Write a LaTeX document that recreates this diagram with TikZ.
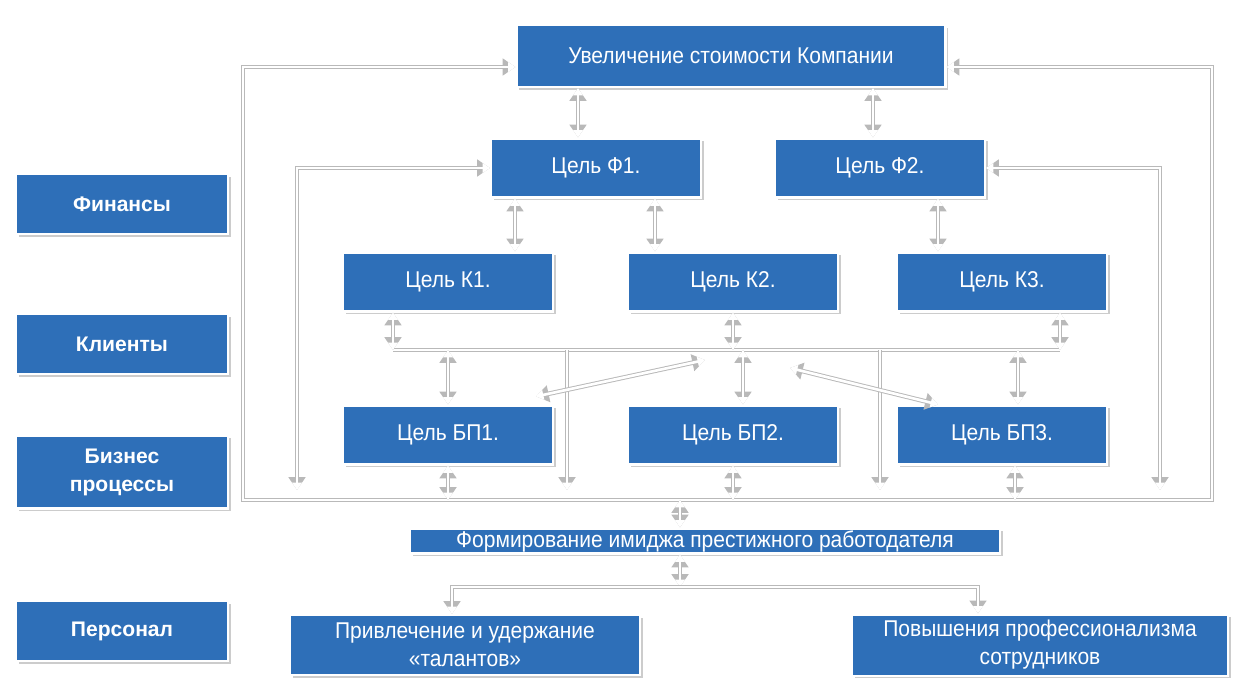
\documentclass[tikz,border=0pt]{standalone}
\usepackage{fontspec}
\setmainfont{Liberation Sans}
\newfontfamily\narrowfont[FakeStretch=0.92]{Liberation Sans}
\usetikzlibrary{arrows.meta,shadows,calc}
\definecolor{boxblue}{RGB}{46,111,184}
\definecolor{edgegray}{RGB}{185,185,185}
\tikzstyle{goal} = [rectangle, minimum width=4.2cm, minimum height=1.18cm, text centered, align=center, fill=boxblue, draw=white, line width=1.2pt, text=white, font=\narrowfont\fontsize{13}{16}\selectfont, drop shadow={shadow xshift=1.5pt, shadow yshift=-1.5pt, opacity=0.4}]
\tikzstyle{level} = [goal, minimum width=4.24cm, minimum height=1.2cm, font=\bfseries\fontsize{12}{16}\selectfont]
\tikzstyle{conn} = [white, line width=1.5pt, >={Triangle[length=0pt 2.8, width=0pt 3.6]}, preaction={draw=edgegray, line width=2.6pt}]

\begin{document}
\begin{tikzpicture}[x=0.02cm, y=-0.02cm]
	\useasboundingbox (0,0) rectangle (1248,694);
	% perspectives
	\node (lfin) [level] at (122,204) {Финансы};
	\node (lkl) [level] at (122,344) {Клиенты};
	\node (lbp) [level, minimum height=1.46cm] at (122,472) {Бизнес\\процессы};
	\node (lper) [level] at (122,631) {Персонал};
	% goals
	\node (top) [goal, minimum width=8.58cm, minimum height=1.24cm] at (731,56) {Увеличение стоимости Компании};
	\node (f1) [goal] at (596,168) {Цель Ф1.};
	\node (f2) [goal] at (880,168) {Цель Ф2.};
	\node (k1) [goal] at (448,282) {Цель К1.};
	\node (k2) [goal] at (733,282) {Цель К2.};
	\node (k3) [goal] at (1002,282) {Цель К3.};
	\node (bp1) [goal] at (448,435) {Цель БП1.};
	\node (bp2) [goal] at (733,435) {Цель БП2.};
	\node (bp3) [goal] at (1002,435) {Цель БП3.};
	\node (img) [goal, minimum width=11.8cm, minimum height=0.46cm, inner sep=1pt] at (705,541) {Формирование имиджа престижного работодателя};
	\node (tal) [goal, minimum width=7cm, minimum height=1.2cm] at (465,645) {Привлечение и удержание\\«талантов»};
	\node (prof) [goal, minimum width=7.52cm, minimum height=1.2cm] at (1040,645) {Повышения профессионализма\\сотрудников};

	\coordinate (oL) at (243,500);
	\coordinate (oR) at (1212,500);
	\coordinate (iL) at (297,490);
	\coordinate (iR) at (1160,490);
	\coordinate (busL) at (393,350);
	\coordinate (busR) at (1060,350);
	\coordinate (v1) at (567,490);
	\coordinate (v2) at (880,490);
	\coordinate (d1) at (705,360);
	\coordinate (d2) at (790,368);
	\coordinate (pb) at (680,587);
	\coordinate (tf1) at ($(f1.north)+(-18,0)$);
	\coordinate (tf2) at ($(f2.north)+(-7,0)$);
	\coordinate (fk1) at ($(k1.north)+(67,0)$);
	\coordinate (fk2) at ($(k2.north)+(-78,0)$);
	\coordinate (fk3) at ($(k3.north)+(-64,0)$);
	\coordinate (kb2) at ($(bp2.north)+(10,0)$);
	\coordinate (kb3) at ($(bp3.north)+(16,0)$);
	\coordinate (b3) at ($(bp3.south)+(13,0)$);
	\coordinate (iu) at ($(img.north)+(-25,0)$);
	\coordinate (id) at ($(img.south)+(-25,0)$);
	\coordinate (pt) at ($(tal.north)+(-13,0)$);
	\coordinate (pp) at ($(prof.north)+(-62,0)$);

	% loops
	\draw [conn,<->] ($(top.west)+(0,11)$) -| (oL) -- (oR) |- ($(top.east)+(0,11)$);
	\draw [conn,<->] (f1.west) -| (iL);
	\draw [conn,<->] (f2.east) -| (iR);
	% top level
	\draw [conn,<->] (tf1 |- top.south) -- (tf1);
	\draw [conn,<->] (tf2 |- top.south) -- (tf2);
	\draw [conn,<->] (fk1 |- f1.south) -- (fk1);
	\draw [conn,<->] (fk2 |- f1.south) -- (fk2);
	\draw [conn,<->] (fk3 |- f2.south) -- (fk3);
	% clients bus
	\draw [conn] (busL) -- (busR);
	\draw [conn,<->] (k1.south -| busL) -- (busL);
	\draw [conn,<->] (k2.south) -- (k2.south |- busL);
	\draw [conn,<->] (k3.south -| busR) -- (busR);
	\draw [conn,<->] (bp1.north |- busL) -- (bp1.north);
	\draw [conn,<->] (kb2 |- busL) -- (kb2);
	\draw [conn,<->] (kb3 |- busL) -- (kb3);
	\draw [conn,->] (v1 |- busL) -- (v1);
	\draw [conn,->] (v2 |- busL) -- (v2);
	\draw [conn,<->] ($(bp1.north east)+(-18,-8)$) -- (d1);
	\draw [conn,<->] ($(bp3.north west)+(42,0)$) -- (d2);
	% processes
	\draw [conn,<->] (bp1.south) -- (bp1.south |- oL);
	\draw [conn,<->] (bp2.south) -- (bp2.south |- oL);
	\draw [conn,<->] (b3) -- (b3 |- oL);
	% personnel
	\draw [conn,<->] (iu |- oL) -- (iu);
	\draw [conn,<->] (id) -- (pb);
	\draw [conn,->] (pb) -| (pt);
	\draw [conn,->] (pb) -| (pp);
\end{tikzpicture}
\end{document}
